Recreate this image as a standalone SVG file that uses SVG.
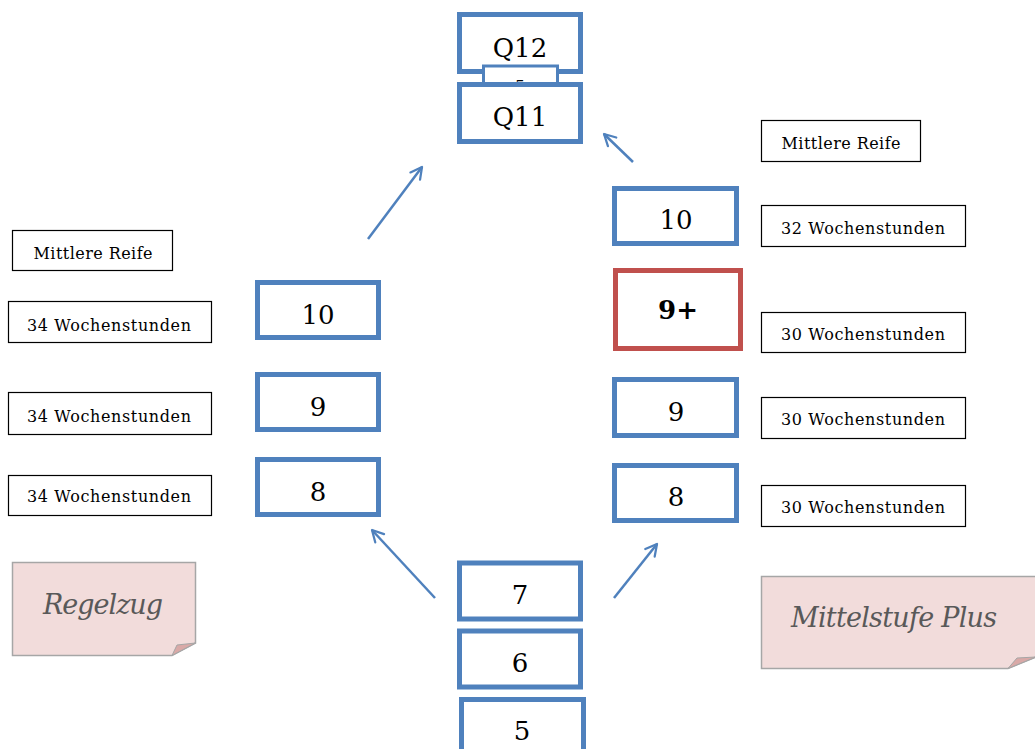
<svg xmlns="http://www.w3.org/2000/svg" width="1035" height="749" viewBox="0 0 1035 749">
<defs>
<style>
.b{fill:#fff;stroke:#4F81BD;stroke-width:5}
.r{fill:#fff;stroke:#C0504D;stroke-width:5}
.l{fill:#fff;stroke:#000;stroke-width:1.2}
.n{font-family:'DejaVu Serif',serif;font-size:26px;fill:#000;text-anchor:middle}
.t{font-family:'DejaVu Serif',serif;font-size:16px;fill:#000;text-anchor:middle}
.note{fill:#F2DCDB;stroke:#A6A6A6;stroke-width:1.5}
.fold{fill:#D9A9A7;stroke:#A6A6A6;stroke-width:1}
.nt{font-family:'DejaVu Serif',serif;font-style:italic;font-size:27px;fill:#595959;text-anchor:middle}
.c{stroke:#4F81BD;stroke-width:2.5;fill:none;marker-end:url(#ah)}
</style>
<marker id="ah" viewBox="0 0 20 20" refX="18" refY="10" markerWidth="15" markerHeight="15" markerUnits="userSpaceOnUse" orient="auto" overflow="visible">
<path d="M3,2 L18,10 L3,18" fill="none" stroke="#4F81BD" stroke-width="3" stroke-linecap="round" stroke-linejoin="round"/>
</marker>
</defs>
<rect width="1035" height="749" fill="#fff"/>

<g id="connectors">
<line class="c" x1="368" y1="239" x2="422" y2="167"/>
<line class="c" x1="633" y1="162" x2="604" y2="134"/>
<line class="c" x1="435" y1="598" x2="372" y2="530"/>
<line class="c" x1="614" y1="598" x2="657" y2="544"/>
</g>

<g id="q12"><rect class="b" x="459.5" y="14.5" width="121" height="57"/><text class="n" x="520" y="57">Q12</text></g>
<g id="small5"><rect x="483.5" y="66" width="74" height="24" fill="#fff" stroke="#4F81BD" stroke-width="3"/><text class="t" x="520" y="92" font-size="14">5</text></g>
<g id="q11"><rect class="b" x="459.5" y="84.5" width="121" height="57"/><text class="n" x="520" y="126">Q11</text></g>

<g id="l10"><rect class="b" x="257.5" y="282.5" width="121" height="55"/><text class="n" x="318" y="324">10</text></g>
<g id="l9"><rect class="b" x="257.5" y="374.5" width="121" height="55"/><text class="n" x="318" y="416">9</text></g>
<g id="l8"><rect class="b" x="257.5" y="459.5" width="121" height="55"/><text class="n" x="318" y="501">8</text></g>

<g id="r10"><rect class="b" x="614.5" y="188.5" width="122" height="55"/><text class="n" x="676" y="229">10</text></g>
<g id="r9plus"><rect class="r" x="615.5" y="270.5" width="125" height="78"/><text class="n" x="678" y="319" font-weight="bold" font-size="32">9+</text></g>
<g id="r9"><rect class="b" x="614.5" y="379.5" width="122" height="56"/><text class="n" x="676" y="421">9</text></g>
<g id="r8"><rect class="b" x="614.5" y="465.5" width="122" height="55"/><text class="n" x="676" y="506">8</text></g>

<g id="k7"><rect class="b" x="459.5" y="563" width="121" height="56"/><text class="n" x="520" y="604">7</text></g>
<g id="k6"><rect class="b" x="459.5" y="631" width="121" height="56"/><text class="n" x="520" y="672">6</text></g>
<g id="k5"><rect class="b" x="461.5" y="699.5" width="122" height="60"/><text class="n" x="522" y="740">5</text></g>

<g id="lmr"><rect class="l" x="12.5" y="230.5" width="160" height="40"/><text class="t" x="93" y="259" textLength="119">Mittlere Reife</text></g>
<g id="lw10"><rect class="l" x="8.5" y="301.5" width="203" height="41"/><text class="t" x="109" y="331" textLength="164">34 Wochenstunden</text></g>
<g id="lw9"><rect class="l" x="8.5" y="392.5" width="203" height="42"/><text class="t" x="109" y="422" textLength="164">34 Wochenstunden</text></g>
<g id="lw8"><rect class="l" x="8.5" y="475.5" width="203" height="40"/><text class="t" x="109" y="502" textLength="164">34 Wochenstunden</text></g>

<g id="rmr"><rect class="l" x="761.5" y="120.5" width="159" height="41"/><text class="t" x="841" y="149" textLength="119">Mittlere Reife</text></g>
<g id="rw10"><rect class="l" x="761.5" y="205.5" width="204" height="41"/><text class="t" x="863" y="234" textLength="164">32 Wochenstunden</text></g>
<g id="rw9p"><rect class="l" x="761.5" y="312.5" width="204" height="40"/><text class="t" x="863" y="340" textLength="164">30 Wochenstunden</text></g>
<g id="rw9"><rect class="l" x="761.5" y="397.5" width="204" height="41"/><text class="t" x="863" y="425" textLength="164">30 Wochenstunden</text></g>
<g id="rw8"><rect class="l" x="761.5" y="485.5" width="204" height="41"/><text class="t" x="863" y="513" textLength="164">30 Wochenstunden</text></g>

<g id="regelzug">
<path class="note" d="M12.5,562.5 H195.5 V643 L172,655.5 H12.5 Z"/>
<path class="fold" d="M172,655.5 L177,645 L195.5,643 Z"/>
<text class="nt" x="103" y="614" textLength="120">Regelzug</text>
</g>
<g id="mittelstufe">
<path class="note" d="M761.5,576.5 H1036 V657 L1008,668.5 H761.5 Z"/>
<path class="fold" d="M1008,668.5 L1017,658 L1036,657 Z"/>
<text class="nt" x="894" y="627" textLength="206">Mittelstufe Plus</text>
</g>
</svg>
